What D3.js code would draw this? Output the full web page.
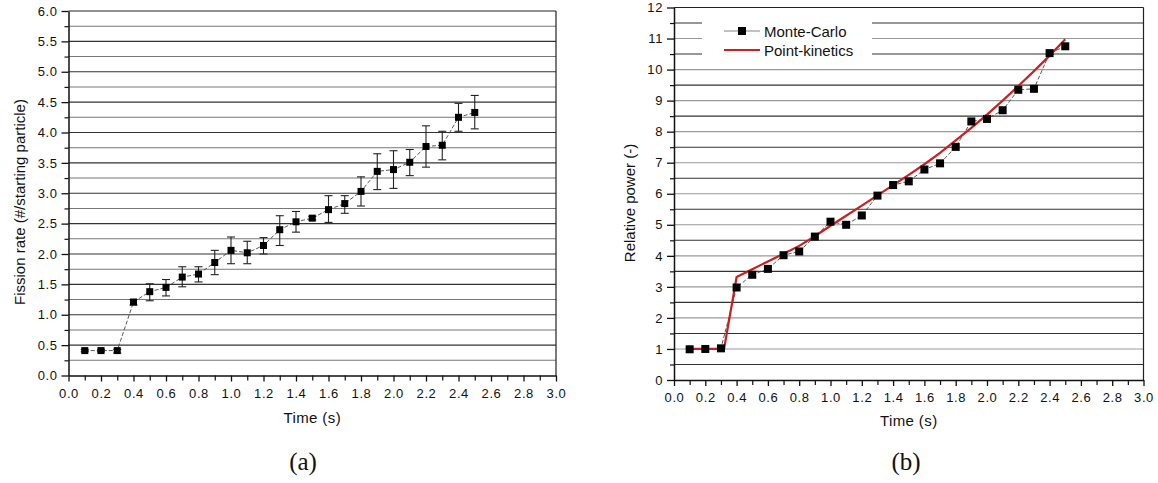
<!DOCTYPE html>
<html><head><meta charset="utf-8">
<script src="https://cdn.jsdelivr.net/npm/d3@7"></script>
<style>
html,body{margin:0;padding:0;background:#fff;}
svg{display:block;}
text{font-family:"Liberation Sans",Arial,sans-serif;fill:#111;}
</style></head>
<body>
<svg id="chart" width="1158" height="483"></svg>
<script>
// ---------- DATA ----------
const times = [0.1,0.2,0.3,0.4,0.5,0.6,0.7,0.8,0.9,1.0,1.1,1.2,1.3,1.4,1.5,1.6,1.7,1.8,1.9,2.0,2.1,2.2,2.3,2.4,2.5];
// (a) fission rate
const fissionRate = [0.41,0.41,0.41,1.21,1.38,1.45,1.62,1.67,1.86,2.06,2.02,2.14,2.40,2.53,2.59,2.73,2.83,3.03,3.36,3.39,3.51,3.77,3.79,4.25,4.33];
const fissionHigh = [0.43,0.43,0.43,1.25,1.51,1.58,1.79,1.79,2.06,2.28,2.21,2.27,2.63,2.70,2.62,2.96,2.96,3.27,3.65,3.70,3.72,4.11,4.02,4.48,4.61];
const fissionLow  = [0.39,0.39,0.37,1.16,1.23,1.31,1.46,1.54,1.66,1.84,1.84,2.00,2.14,2.36,2.56,2.52,2.67,2.79,3.06,3.08,3.29,3.43,3.55,4.02,4.06];
// (b) relative power
const mcPower = [0.99,1.00,1.02,2.98,3.39,3.58,4.02,4.14,4.62,5.10,5.00,5.30,5.94,6.28,6.40,6.78,6.98,7.51,8.33,8.41,8.69,9.35,9.38,10.53,10.75];
const pkTimes = [0.1,0.2,0.3,0.32,0.4,0.5,0.6,0.7,0.8,0.9,1.0,1.1,1.2,1.3,1.4,1.5,1.6,1.7,1.8,1.9,2.0,2.1,2.2,2.3,2.4,2.5];
const pkPower = [1.0,1.0,1.0,1.0,3.32,3.57,3.82,4.07,4.32,4.63,4.97,5.29,5.62,5.95,6.28,6.61,6.95,7.32,7.72,8.12,8.55,9.0,9.47,9.95,10.45,10.98];
// ticks
const xTicksMajor = [0.0,0.2,0.4,0.6,0.8,1.0,1.2,1.4,1.6,1.8,2.0,2.2,2.4,2.6,2.8,3.0];
const xTicksMinor = [0.1,0.3,0.5,0.7,0.9,1.1,1.3,1.5,1.7,1.9,2.1,2.3,2.5,2.7,2.9];
const yTicksA = [0.0,0.5,1.0,1.5,2.0,2.5,3.0,3.5,4.0,4.5,5.0,5.5,6.0];
const yMinorA = [0.25,0.75,1.25,1.75,2.25,2.75,3.25,3.75,4.25,4.75,5.25,5.75];
const yTicksB = [0,1,2,3,4,5,6,7,8,9,10,11,12];
const yMinorB = [0.5,1.5,2.5,3.5,4.5,5.5,6.5,7.5,8.5,9.5,10.5,11.5];
const legendLabels = ["Monte-Carlo","Point-kinetics"];

const svg = d3.select("#chart");

function panel(o){
  const g = svg.append("g");
  const x = d3.scaleLinear().domain([0,3]).range([o.left,o.right]);
  const y = d3.scaleLinear().domain(o.yDomain).range([o.bottom,o.top]);
  // gridlines
  const gridVals = o.yTicks.concat(o.yMinor).filter(v => v>o.yDomain[0] && v<o.yDomain[1]);
  g.append("g").selectAll("line").data(gridVals).join("line")
    .attr("x1",o.left).attr("x2",o.right)
    .attr("y1",d=>y(d)).attr("y2",d=>y(d))
    .attr("stroke",d=>o.gridColor(d)).attr("stroke-width",1.1);
  // legend background covering gridlines
  if(o.legend){
    g.append("rect").attr("x",o.legend.x).attr("y",o.legend.y)
      .attr("width",o.legend.w).attr("height",o.legend.h).attr("fill","#fff");
  }
  // frame top/right
  g.append("line").attr("x1",o.left).attr("x2",o.right).attr("y1",o.top).attr("y2",o.top).attr("stroke","#222").attr("stroke-width",1.2);
  g.append("line").attr("x1",o.right).attr("x2",o.right).attr("y1",o.top).attr("y2",o.bottom).attr("stroke","#222").attr("stroke-width",1.2);
  // x axis
  const xa = g.append("g").attr("transform",`translate(0,${o.bottom})`)
    .call(d3.axisBottom(x).tickValues(xTicksMajor).tickFormat(d3.format(".1f")).tickSizeInner(6).tickSizeOuter(0).tickPadding(7));
  xa.select(".domain").attr("stroke","#111").attr("stroke-width",1.5);
  xa.selectAll(".tick line").attr("stroke","#111").attr("stroke-width",1.3);
  xa.selectAll("text").attr("font-size",13).attr("letter-spacing","0.6px").attr("fill","#222")
    .style("font-family","'Liberation Sans',Arial,sans-serif");
  g.append("g").attr("transform",`translate(0,${o.bottom})`)
    .call(d3.axisBottom(x).tickValues(xTicksMinor).tickFormat("").tickSizeInner(5).tickSizeOuter(0))
    .call(s=>s.select(".domain").remove())
    .selectAll(".tick line").attr("stroke","#111").attr("stroke-width",1.2);
  // y axis
  const ya = g.append("g").attr("transform",`translate(${o.left},0)`)
    .call(d3.axisLeft(y).tickValues(o.yTicks).tickFormat(o.yFormat).tickSizeInner(7).tickSizeOuter(0).tickPadding(4));
  ya.select(".domain").attr("stroke","#111").attr("stroke-width",1.5);
  ya.selectAll(".tick line").attr("stroke","#111").attr("stroke-width",1.3);
  ya.selectAll("text").attr("font-size",13).attr("letter-spacing","0.6px").attr("fill","#222")
    .style("font-family","'Liberation Sans',Arial,sans-serif");
  g.append("g").attr("transform",`translate(${o.left},0)`)
    .call(d3.axisLeft(y).tickValues(o.yMinor).tickFormat("").tickSizeInner(4).tickSizeOuter(0))
    .call(s=>s.select(".domain").remove())
    .selectAll(".tick line").attr("stroke","#111").attr("stroke-width",1.2);
  // titles
  g.append("text").attr("x",(o.left+o.right)/2).attr("y",o.xTitleY)
    .attr("text-anchor","middle").attr("font-size",15).attr("letter-spacing","0.4px").attr("fill","#222").text("Time (s)");
  g.append("text").attr("transform",`translate(${o.yTitleX},${o.yTitleY}) rotate(-90)`)
    .attr("text-anchor","middle").attr("dominant-baseline","central")
    .attr("font-size",15).attr("fill","#222").text(o.yTitle);
  g.append("text").attr("x",o.captionX).attr("y",470).attr("text-anchor","middle")
    .style("font-family","'Liberation Serif','Times New Roman',serif").attr("font-size",25).attr("fill","#111").text(o.caption);
  return {g,x,y};
}

// ---------- Panel (a) ----------
const A = panel({left:68.5,right:556,top:11,bottom:375.5,yDomain:[0,6],
  yTicks:yTicksA,yMinor:yMinorA,yFormat:d3.format(".1f"),
  gridColor:d=> (Math.round(d*4)%2===0) ? "#333" : "#777",
  xTitleY:423,yTitle:"Fission rate (#/starting particle)",yTitleX:19,yTitleY:202,
  caption:"(a)",captionX:303});

const ptsA = times.map((t,i)=>({t,v:fissionRate[i],hi:fissionHigh[i],lo:fissionLow[i]}));
A.g.append("path").datum(ptsA)
  .attr("d",d3.line().x(d=>A.x(d.t)).y(d=>A.y(d.v)))
  .attr("fill","none").attr("stroke","#444").attr("stroke-width",0.9).attr("stroke-dasharray","4,2");
const eb = A.g.append("g").selectAll("g").data(ptsA).join("g").attr("stroke","#222").attr("stroke-width",1.1);
eb.append("line").attr("x1",d=>A.x(d.t)).attr("x2",d=>A.x(d.t)).attr("y1",d=>A.y(d.hi)).attr("y2",d=>A.y(d.lo));
eb.append("line").attr("x1",d=>A.x(d.t)-4).attr("x2",d=>A.x(d.t)+4).attr("y1",d=>A.y(d.hi)).attr("y2",d=>A.y(d.hi));
eb.append("line").attr("x1",d=>A.x(d.t)-4).attr("x2",d=>A.x(d.t)+4).attr("y1",d=>A.y(d.lo)).attr("y2",d=>A.y(d.lo));
A.g.append("g").selectAll("rect").data(ptsA).join("rect")
  .attr("x",d=>A.x(d.t)-3.5).attr("y",d=>A.y(d.v)-3.5).attr("width",7).attr("height",7).attr("fill","#000");

// ---------- Panel (b) ----------
const B = panel({left:674,right:1143.5,top:7.5,bottom:380,yDomain:[0,12],
  yTicks:yTicksB,yMinor:yMinorB,yFormat:d3.format("d"),
  gridColor:d=> Number.isInteger(d) ? "#999" : "#333",
  legend:{x:702,y:14,w:170,h:48},
  xTitleY:426,yTitle:"Relative power (-)",yTitleX:629,yTitleY:203,
  caption:"(b)",captionX:906});

const ptsB = times.map((t,i)=>({t,v:mcPower[i]}));
const pkPts = pkTimes.map((t,i)=>({t,v:pkPower[i]}));
B.g.append("path").datum(ptsB)
  .attr("d",d3.line().x(d=>B.x(d.t)).y(d=>B.y(d.v)))
  .attr("fill","none").attr("stroke","#444").attr("stroke-width",0.9).attr("stroke-dasharray","4,2");
B.g.append("path").datum(pkPts)
  .attr("d",d3.line().x(d=>B.x(d.t)).y(d=>B.y(d.v)))
  .attr("fill","none").attr("stroke","#cc1f1f").attr("stroke-width",2.2);
B.g.append("g").selectAll("rect").data(ptsB).join("rect")
  .attr("x",d=>B.x(d.t)-4).attr("y",d=>B.y(d.v)-4).attr("width",8).attr("height",8).attr("fill","#000");

// legend
const lg = B.g.append("g");
lg.append("line").attr("x1",724).attr("x2",760).attr("y1",31).attr("y2",31).attr("stroke","#777").attr("stroke-width",0.9);
lg.append("rect").attr("x",738).attr("y",27).attr("width",8).attr("height",8).attr("fill","#000");
lg.append("line").attr("x1",724).attr("x2",760).attr("y1",50).attr("y2",50).attr("stroke","#cc1f1f").attr("stroke-width",2.2);
lg.selectAll("text").data(legendLabels).join("text")
  .attr("x",764).attr("y",(d,i)=>31+i*19).attr("dominant-baseline","central")
  .attr("font-size",15).attr("fill","#222").text(d=>d);
</script>
</body></html>
